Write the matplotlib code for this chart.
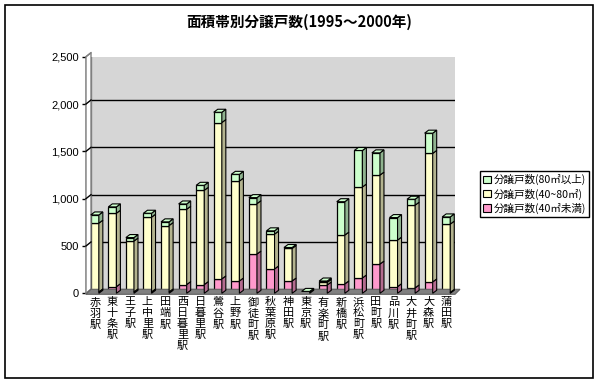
import matplotlib
matplotlib.use('Agg')
import matplotlib.pyplot as plt
import matplotlib.transforms as mtransforms
from matplotlib.patches import Polygon, Rectangle, Patch

# ---------------- data ----------------
stations = ['赤羽駅', '東十条駅', '王子駅', '上中里駅', '田端駅', '西日暮里駅', '日暮里駅',
            '鶯谷駅', '上野駅', '御徒町駅', '秋葉原駅', '神田駅', '東京駅', '有楽町駅',
            '新橋駅', '浜松町駅', '田町駅', '品川駅', '大井町駅', '大森駅', '蒲田駅']
under40 = [15, 70, 15, 15, 15, 92, 92, 152, 130, 415, 257, 130, 0, 88, 99, 162, 309, 70, 57, 120, 10]
mid40_80 = [726, 776, 537, 789, 701, 796, 996, 1652, 1056, 532, 368, 344, 15, 28, 516, 961, 940, 492, 874, 1358, 721]
over80 = [87, 67, 37, 42, 39, 56, 53, 109, 71, 64, 35, 10, 5, 14, 353, 386, 235, 238, 63, 214, 76]
series_labels = ['分譲戸数(80㎡以上)', '分譲戸数(40~80㎡)', '分譲戸数(40㎡未満)']
title = '面積帯別分譲戸数(1995～2000年)'
yticks = [0, 500, 1000, 1500, 2000, 2500]

JP = ['Noto Sans CJK JP', 'DejaVu Sans']
plt.rcParams['font.family'] = JP

W, H = 599, 383
fig = plt.figure(figsize=(W / 100, H / 100), dpi=100)
fig.patch.set_facecolor('white')

# front plane of plot (pixel coords from top-left)
L, R, T, B = 86, 455, 56.7, 293.3
ax = fig.add_axes([L / W, 1 - B / H, (R - L) / W, (B - T) / H])
ax.set_xlim(-0.5, len(stations) - 0.5)
ax.set_ylim(0, 2500)
ax.patch.set_visible(False)
for s in ['top', 'right', 'bottom']:
    ax.spines[s].set_visible(False)
ax.spines['left'].set_color('black')
ax.spines['left'].set_linewidth(1.0)
ax.spines['left'].set_zorder(6)

wdx, wdy = 5, 4   # wall depth offset (px)
bdx, bdy = 4, 3   # bar depth offset (px)
wall_tr = mtransforms.offset_copy(ax.transData, fig=fig, x=wdx, y=wdy, units='dots')

fig.canvas.draw()
td = ax.transData

x0d, x1d = -0.5, len(stations) - 0.5
(px0, py0), (px1, pytop) = td.transform([(x0d, 0), (x1d, 2500)])

# back wall
wall = Rectangle((x0d, 0), x1d - x0d, 2500, transform=wall_tr, facecolor='#D6D6D6',
                 edgecolor='#808080', linewidth=1.0, zorder=0.5)
ax.add_patch(wall)
# gridlines on wall
for v in yticks[1:-1]:
    ax.plot([x0d, x1d], [v, v], transform=wall_tr, color='black', lw=1.0, zorder=0.6)
# left side wall
side = Polygon([(px0, py0), (px0, pytop), (px0 + wdx, pytop + wdy), (px0 + wdx, py0 + wdy)],
               closed=True, transform=None, facecolor='white', edgecolor='#808080', lw=1.0, zorder=0.7)
fig.patches.append(side)
for v in yticks:
    _, yv = td.transform((x0d, v))
    fig.lines.append(plt.Line2D([px0, px0 + wdx], [yv, yv + wdy], transform=None,
                                color='black' if 0 < v < 2500 else '#808080', lw=1.0, zorder=0.8))
# floor
floor = Polygon([(px0, py0 - 1), (px1, py0 - 1), (px1 + wdx, py0 + wdy), (px0 + wdx, py0 + wdy)],
                closed=True, transform=None, facecolor='#808080', edgecolor='#606060', lw=0.8, zorder=0.9)
fig.patches.append(floor)

colors = {'over': '#CCFFCC', 'mid': '#FFFFCC', 'under': '#FF99CC'}
sides = {'over': '#8FB38F', 'mid': '#B3B38F', 'under': '#B36B8F'}

bw = 0.46
for i in range(len(stations)):
    segs = [('under', 0, under40[i]),
            ('mid', under40[i], under40[i] + mid40_80[i]),
            ('over', under40[i] + mid40_80[i], under40[i] + mid40_80[i] + over80[i])]
    segs = [s for s in segs if s[2] - s[1] > 0]
    for k, (key, b, t) in enumerate(segs):
        ax.bar(i, t - b, bottom=b, width=bw, color=colors[key], edgecolor='black',
               linewidth=0.9, zorder=3)
        (xl, yb), (xr, yt) = td.transform([(i - bw / 2, b), (i + bw / 2, t)])
        sp = Polygon([(xr, yb), (xr + bdx, yb + bdy), (xr + bdx, yt + bdy), (xr, yt)], closed=True,
                     transform=None, facecolor=sides[key], edgecolor='black', lw=0.8, zorder=2.5)
        fig.patches.append(sp)
        if k == len(segs) - 1:
            tp = Polygon([(xl, yt), (xl + bdx, yt + bdy), (xr + bdx, yt + bdy), (xr, yt)], closed=True,
                         transform=None, facecolor=colors[key], edgecolor='black', lw=0.8, zorder=2.6)
            fig.patches.append(tp)

# axes ticks
ax.set_yticks(yticks)
ax.set_yticklabels([f'{v:,}' for v in yticks], family=['Liberation Sans', 'DejaVu Sans'], fontsize=8)
ax.tick_params(axis='y', direction='out', length=3, width=1, pad=2)
ax.set_xticks(range(len(stations)))
ax.set_xticklabels(['\n'.join(s) for s in stations], fontsize=8, linespacing=1.12)
ax.tick_params(axis='x', length=0, pad=3)
for lab in ax.get_xticklabels():
    lab.set_verticalalignment('top')

# title
fig.text(0.5, 1 - 22 / H, title, ha='center', va='center', fontsize=10.5, fontweight='bold')

# legend
handles = [Patch(facecolor=colors['over'], edgecolor='black', lw=0.8),
           Patch(facecolor=colors['mid'], edgecolor='black', lw=0.8),
           Patch(facecolor=colors['under'], edgecolor='black', lw=0.8)]
leg = fig.legend(handles, series_labels, loc='upper left',
                 bbox_to_anchor=(480 / W, 1 - 171 / H), bbox_transform=fig.transFigure,
                 fontsize=7.6, frameon=True, fancybox=False, edgecolor='black', framealpha=1,
                 handlelength=0.7, handleheight=0.7, handletextpad=0.3, labelspacing=0.3,
                 borderpad=0.3, borderaxespad=0)
leg.get_frame().set_linewidth(1.0)

# outer border
fig.patches.append(Rectangle((5, H - 378), 588, 373, transform=None, fill=False,
                             edgecolor='black', lw=1.2, zorder=10))

fig.savefig('out.png', dpi=100)
